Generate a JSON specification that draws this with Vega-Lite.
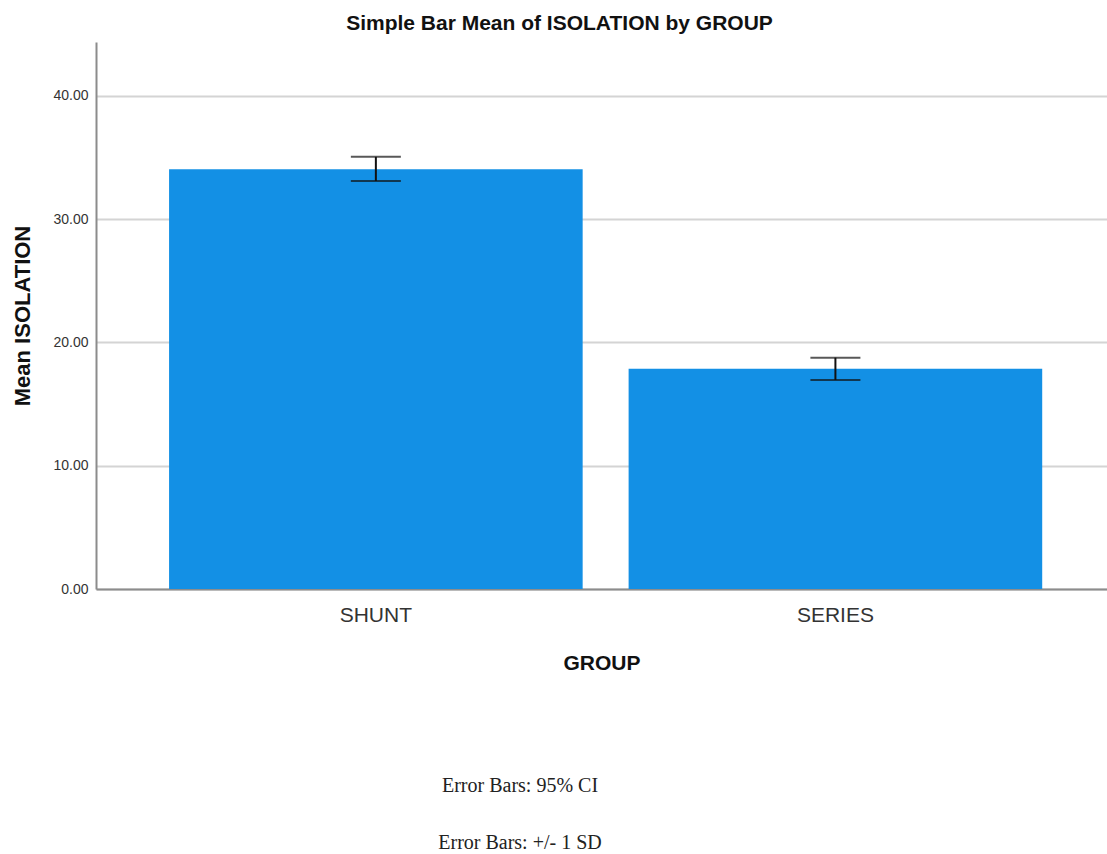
{
  "$schema": "https://vega.github.io/schema/vega-lite/v6.json",
  "background": "white",
  "padding": {"left": 11, "top": 13, "right": 0, "bottom": 0},
  "title": {"text": "Simple Bar Mean of ISOLATION by GROUP", "font": "Liberation Sans", "fontSize": 21, "fontWeight": "bold", "color": "#111111", "anchor": "middle", "offset": 8, "dx": 0},
  "config": {"view": {"stroke": null}, "concat": {"spacing": 84}},
  "vconcat": [
    {
      "width": 1011,
      "height": 547,
      "data": {"values": [
        {"group": "SHUNT", "mean": 34.05, "lo": 33.1, "hi": 35.06},
        {"group": "SERIES", "mean": 17.87, "lo": 16.96, "hi": 18.77}
      ]},
      "encoding": {
        "x": {"field": "group", "type": "nominal", "sort": null,
          "scale": {"paddingInner": 0.1, "paddingOuter": 0.15, "align": 0.53},
          "axis": {"domainColor": "#8c8c8c", "domainWidth": 2, "ticks": false, "labelAngle": 0,
            "labelFont": "Liberation Sans", "labelFontSize": 21, "labelColor": "#333333", "labelPadding": 15,
            "title": "GROUP", "titleFont": "Liberation Sans", "titleFontSize": 21, "titleFontWeight": "bold", "titleColor": "#111111", "titlePadding": 27}}
      },
      "layer": [
        {
          "mark": {"type": "bar", "color": "#1390e5"},
          "encoding": {
            "y": {"field": "mean", "type": "quantitative",
              "scale": {"domain": [0, 44.38], "nice": false},
              "axis": {"grid": true, "gridColor": "#d4d4d4", "gridWidth": 2, "domainColor": "#8c8c8c", "domainWidth": 2,
                "ticks": false, "values": [0, 10, 20, 30, 40], "format": ".2f",
                "labelFont": "Liberation Sans", "labelFontSize": 14, "labelColor": "#333333", "labelPadding": 8,
                "title": "Mean ISOLATION", "titleFont": "Liberation Sans", "titleFontSize": 22, "titleFontWeight": "bold", "titleColor": "#111111", "titlePadding": 18}}
          }
        },
        {
          "mark": {"type": "rule", "color": "#111111", "strokeWidth": 2},
          "encoding": {"y": {"field": "lo", "type": "quantitative"}, "y2": {"field": "hi"}}
        },
        {
          "mark": {"type": "tick", "color": "#111111", "thickness": 2, "size": 50},
          "encoding": {"y": {"field": "lo", "type": "quantitative"}}
        },
        {
          "mark": {"type": "tick", "color": "#111111", "thickness": 2, "size": 50},
          "encoding": {"y": {"field": "hi", "type": "quantitative"}}
        }
      ]
    },
    {
      "width": 848,
      "height": 114,
      "data": {"values": [{"note": "Error Bars: 95% CI"}, {"note": "Error Bars: +/- 1 SD"}]},
      "mark": {"type": "text", "font": "Liberation Serif", "fontSize": 20, "color": "#222222", "align": "center", "baseline": "middle"},
      "encoding": {
        "x": {"datum": 0.5, "type": "quantitative", "scale": {"domain": [0, 1]}, "axis": null},
        "y": {"field": "note", "type": "nominal", "sort": null, "axis": null, "scale": {"paddingInner": 0, "paddingOuter": 0}},
        "text": {"field": "note"}
      }
    }
  ]
}
